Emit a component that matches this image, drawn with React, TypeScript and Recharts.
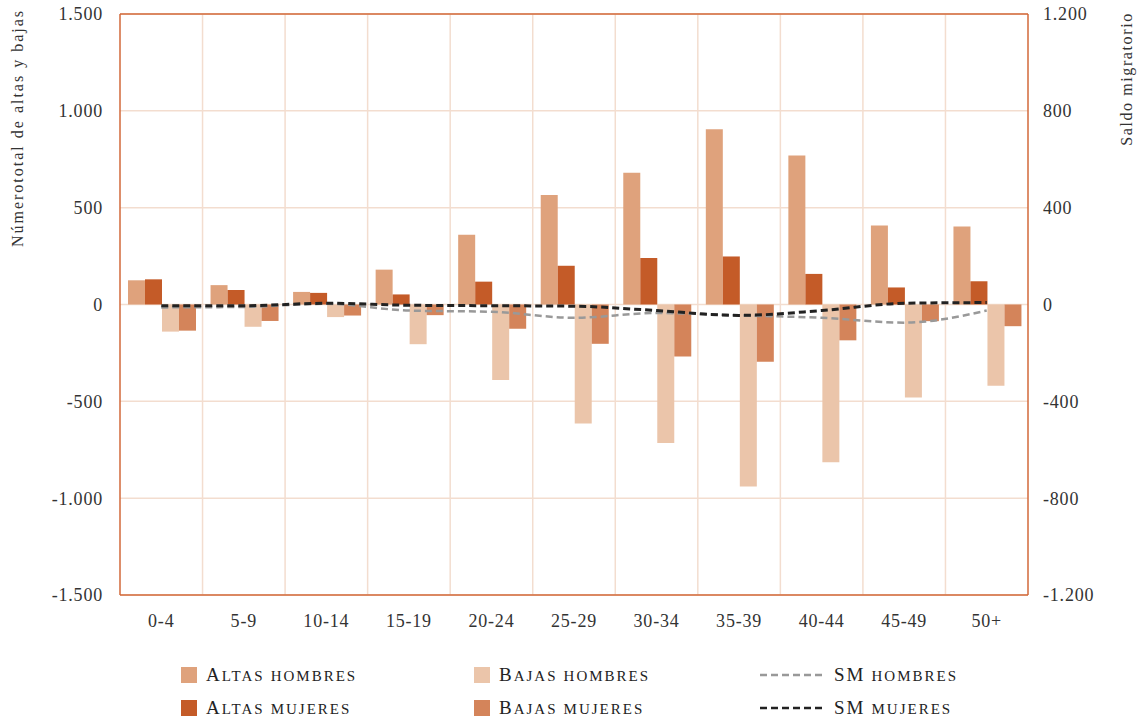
import React from 'react'
import { ComposedChart, Bar, Line, XAxis, YAxis, CartesianGrid, ReferenceLine } from 'recharts'

// age groups and values
const categories = ['0-4', '5-9', '10-14', '15-19', '20-24', '25-29', '30-34', '35-39', '40-44', '45-49', '50+']
const altasHombres = [125, 100, 65, 180, 360, 565, 680, 905, 770, 408, 403]
const altasMujeres = [130, 75, 60, 52, 118, 200, 240, 248, 158, 88, 120]
const bajasHombres = [-140, -115, -65, -205, -390, -615, -715, -940, -815, -480, -420]
const bajasMujeres = [-135, -85, -57, -55, -125, -203, -268, -295, -185, -86, -112]
const smHombres = [-12, -10, 3, -25, -30, -55, -35, -45, -55, -75, -25]
const smMujeres = [-5, -5, 5, -3, -5, -7, -25, -45, -25, 5, 8]

const leftTicks = [-1500, -1000, -500, 0, 500, 1000, 1500]
const rightTicks = [-1200, -800, -400, 0, 400, 800, 1200]

const data = categories.map((cat, i) => ({
  cat,
  altasHombres: altasHombres[i],
  altasMujeres: altasMujeres[i],
  bajasHombres: bajasHombres[i],
  bajasMujeres: bajasMujeres[i],
  smHombres: smHombres[i],
  smMujeres: smMujeres[i],
}))

const FONT = '"Liberation Serif", "DejaVu Serif", serif'
const AXIS = '#D2693A'
const GRID = '#F3DDCF'
const C_AH = '#DFA27C'
const C_AM = '#C45B28'
const C_BH = '#EBC5AA'
const C_BM = '#D4845A'

const fmt = (v: number) => {
  const s = Math.abs(v).toString()
  const withDots = s.length > 3 ? s.slice(0, s.length - 3) + '.' + s.slice(s.length - 3) : s
  return v < 0 ? '-' + withDots : withDots
}

const tickStyle = { fontFamily: FONT, fontSize: 18, fill: '#333', letterSpacing: 0.8 }

const legendItems = [
  { label: 'Altas hombres', color: C_AH, kind: 'box', x: 181, y: 665 },
  { label: 'Altas mujeres', color: C_AM, kind: 'box', x: 181, y: 698 },
  { label: 'Bajas hombres', color: C_BH, kind: 'box', x: 474, y: 665 },
  { label: 'Bajas mujeres', color: C_BM, kind: 'box', x: 474, y: 698 },
  { label: 'SM hombres', color: '#999', kind: 'line', x: 760, y: 665 },
  { label: 'SM mujeres', color: '#222', kind: 'line', x: 760, y: 698 },
]

// first letter full size, rest as small capitals
const SmallCaps = ({ text }: { text: string }) => {
  const words = text.split(' ')
  return (
    <span style={{ color: '#222', letterSpacing: 2, whiteSpace: 'nowrap' }}>
      {words.map((w, i) => {
        const allCaps = w === w.toUpperCase()
        return (
          <React.Fragment key={i}>
            {i > 0 ? ' ' : ''}
            {allCaps ? (
              <span style={{ fontSize: 19 }}>{w}</span>
            ) : i === 0 ? (
              <>
                <span style={{ fontSize: 19 }}>{w[0]}</span>
                <span style={{ fontSize: 15 }}>{w.slice(1).toUpperCase()}</span>
              </>
            ) : (
              <span style={{ fontSize: 15 }}>{w.toUpperCase()}</span>
            )}
          </React.Fragment>
        )
      })}
    </span>
  )
}

export default function App() {
  return (
    <div style={{ position: 'absolute', left: 0, top: 0, width: 1138, height: 719, background: '#fff', fontFamily: FONT }}>
      <ComposedChart
        width={1138}
        height={719}
        data={data}
        margin={{ top: 14, right: 0, bottom: 0, left: 0 }}
        barCategoryGap={8}
        barGap={0}
      >
        <CartesianGrid
          yAxisId="left"
          stroke={GRID}
          strokeWidth={1.5}
          verticalCoordinatesGenerator={({ offset }: any) =>
            categories.slice(1).map((_, k) => offset.left + (offset.width * (k + 1)) / categories.length)
          }
        />
        <XAxis
          dataKey="cat"
          height={124}
          axisLine={{ stroke: AXIS, strokeWidth: 1.5 }}
          tickLine={false}
          tickSize={0}
          tickMargin={19}
          tick={tickStyle}
          interval={0}
        />
        <YAxis
          yAxisId="left"
          width={120}
          domain={[-1500, 1500]}
          ticks={leftTicks}
          tickFormatter={fmt}
          axisLine={{ stroke: AXIS, strokeWidth: 1.5 }}
          tickLine={false}
          tickSize={0}
          tickMargin={17}
          tick={tickStyle}
        />
        <YAxis
          yAxisId="right"
          orientation="right"
          width={110}
          domain={[-1200, 1200]}
          ticks={rightTicks}
          tickFormatter={fmt}
          axisLine={{ stroke: AXIS, strokeWidth: 1.5 }}
          tickLine={false}
          tickSize={0}
          tickMargin={15}
          tick={tickStyle}
        />
        <ReferenceLine yAxisId="left" y={1500} stroke={AXIS} strokeWidth={1.5} />
        <Bar yAxisId="left" dataKey="altasHombres" fill={C_AH} isAnimationActive={false} />
        <Bar yAxisId="left" dataKey="altasMujeres" fill={C_AM} isAnimationActive={false} />
        <Bar yAxisId="left" dataKey="bajasHombres" fill={C_BH} isAnimationActive={false} />
        <Bar yAxisId="left" dataKey="bajasMujeres" fill={C_BM} isAnimationActive={false} />
        <Line
          yAxisId="right"
          type="monotone"
          dataKey="smHombres"
          stroke="#999"
          strokeWidth={2.5}
          strokeDasharray="7 4"
          dot={false}
          isAnimationActive={false}
        />
        <Line
          yAxisId="right"
          type="monotone"
          dataKey="smMujeres"
          stroke="#222"
          strokeWidth={3}
          strokeDasharray="7 4"
          dot={false}
          isAnimationActive={false}
        />
      </ComposedChart>

      {/* axis titles */}
      <div
        style={{
          position: 'absolute', left: 18, top: 128, transform: 'translate(-50%, -50%) rotate(-90deg)',
          whiteSpace: 'nowrap', fontSize: 16, letterSpacing: 2, color: '#333',
        }}
      >
        Númerototal de altas y bajas
      </div>
      <div
        style={{
          position: 'absolute', left: 1127, top: 79, transform: 'translate(-50%, -50%) rotate(-90deg)',
          whiteSpace: 'nowrap', fontSize: 16, letterSpacing: 1.6, color: '#333',
        }}
      >
        Saldo migratorio
      </div>

      {/* legend */}
      {legendItems.map((it) => (
        <div key={it.label} style={{ position: 'absolute', left: it.x, top: it.y, height: 20, display: 'flex', alignItems: 'center' }}>
          {it.kind === 'box' ? (
            <div style={{ width: 16, height: 16, background: it.color, marginRight: 9 }} />
          ) : (
            <svg width={62} height={20} style={{ marginRight: 12 }}>
              <line x1={0} y1={10} x2={62} y2={10} stroke={it.color} strokeWidth={2.5} strokeDasharray="7 4" />
            </svg>
          )}
          <SmallCaps text={it.label} />
        </div>
      ))}
    </div>
  )
}
